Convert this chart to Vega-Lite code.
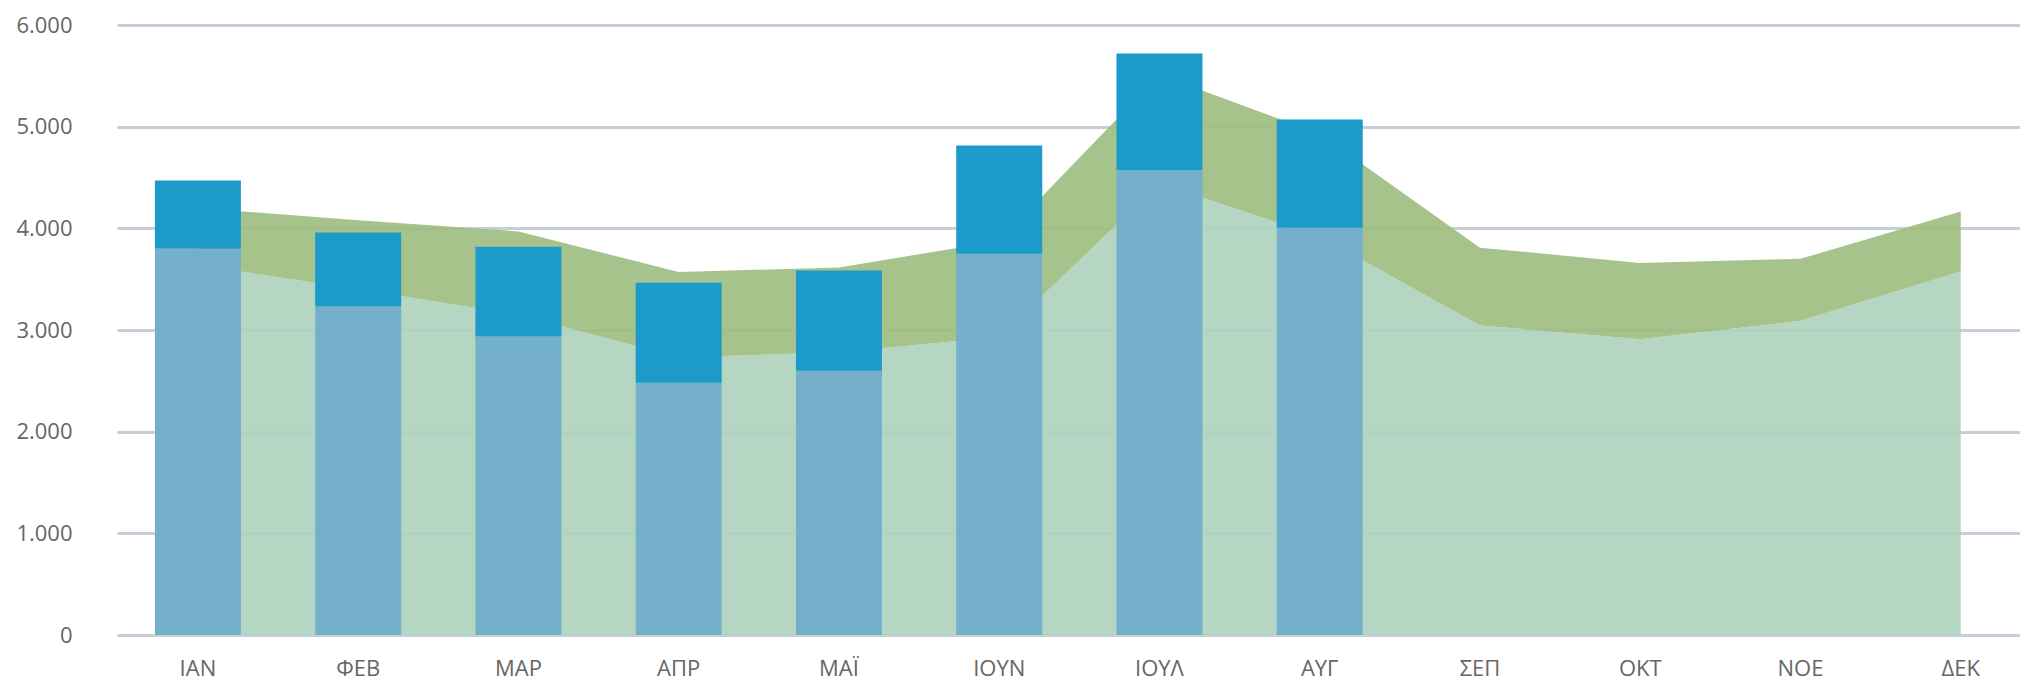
{
  "$schema": "https://vega.github.io/schema/vega-lite/v6.json",
  "width": 1903,
  "height": 610,
  "autosize": "none",
  "padding": {"left": 117, "top": 25, "right": 0, "bottom": 48},
  "background": "white",
  "datasets": {
    "area": [
      {"m": "ΙΑΝ", "lo": 3640, "hi": 4200},
      {"m": "ΦΕΒ", "lo": 3400, "hi": 4080},
      {"m": "ΜΑΡ", "lo": 3150, "hi": 3970},
      {"m": "ΑΠΡ", "lo": 2730, "hi": 3570},
      {"m": "ΜΑΪ", "lo": 2780, "hi": 3615},
      {"m": "ΙΟΥΝ", "lo": 2930, "hi": 3875},
      {"m": "ΙΟΥΛ", "lo": 4440, "hi": 5510},
      {"m": "ΑΥΓ", "lo": 3920, "hi": 4930},
      {"m": "ΣΕΠ", "lo": 3045, "hi": 3810},
      {"m": "ΟΚΤ", "lo": 2910, "hi": 3660},
      {"m": "ΝΟΕ", "lo": 3090, "hi": 3700},
      {"m": "ΔΕΚ", "lo": 3575, "hi": 4165}
    ],
    "bars": [
      {"m": "ΙΑΝ", "lo": 3800, "hi": 4470},
      {"m": "ΦΕΒ", "lo": 3230, "hi": 3960},
      {"m": "ΜΑΡ", "lo": 2935, "hi": 3820},
      {"m": "ΑΠΡ", "lo": 2480, "hi": 3465},
      {"m": "ΜΑΪ", "lo": 2600, "hi": 3585},
      {"m": "ΙΟΥΝ", "lo": 3750, "hi": 4815},
      {"m": "ΙΟΥΛ", "lo": 4575, "hi": 5720},
      {"m": "ΑΥΓ", "lo": 4005, "hi": 5070}
    ]
  },
  "encoding": {
    "x": {
      "field": "m",
      "type": "nominal",
      "scale": {
        "type": "band",
        "domain": ["ΙΑΝ", "ΦΕΒ", "ΜΑΡ", "ΑΠΡ", "ΜΑΪ", "ΙΟΥΝ", "ΙΟΥΛ", "ΑΥΓ", "ΣΕΠ", "ΟΚΤ", "ΝΟΕ", "ΔΕΚ"],
        "paddingInner": 0.4633,
        "paddingOuter": 0.169,
        "align": 0.7
      },
      "axis": {
        "title": null,
        "domain": false,
        "ticks": false,
        "tickSize": 0,
        "labelAngle": 0,
        "labelFont": "Open Sans",
        "labelFontSize": 22,
        "labelColor": "#666666",
        "labelPadding": 23,
        "grid": false
      }
    }
  },
  "layer": [
    {
      "data": {"name": "area"},
      "mark": {"type": "area", "color": "#add1bc", "opacity": 0.9},
      "encoding": {
        "y": {
          "field": "lo",
          "type": "quantitative",
          "scale": {"domain": [0, 6000], "nice": false},
          "axis": {
            "title": null,
            "values": [0, 1000, 2000, 3000, 4000, 5000, 6000],
            "domain": false,
            "ticks": false,
            "tickSize": 0,
            "labelFont": "Open Sans",
            "labelFontSize": 22,
            "labelColor": "#666666",
            "labelPadding": 45,
            "labelExpr": "replace(format(datum.value, ','), ',', '.')",
            "grid": true,
            "gridColor": "#c5cfdc",
            "gridWidth": 3,
            "zindex": 0
          }
        }
      }
    },
    {
      "data": {"name": "area"},
      "mark": {"type": "area", "color": "#9dbd7f", "opacity": 0.9},
      "encoding": {
        "y": {"field": "lo", "type": "quantitative"},
        "y2": {"field": "hi"}
      }
    },
    {
      "data": {"name": "bars"},
      "mark": {"type": "bar", "color": "#74b0ca"},
      "encoding": {
        "y": {"field": "lo", "type": "quantitative"}
      }
    },
    {
      "data": {"name": "bars"},
      "mark": {"type": "bar", "color": "#1c9aca"},
      "encoding": {
        "y": {"field": "lo", "type": "quantitative"},
        "y2": {"field": "hi"}
      }
    }
  ],
  "config": {
    "view": {"stroke": null}
  }
}
